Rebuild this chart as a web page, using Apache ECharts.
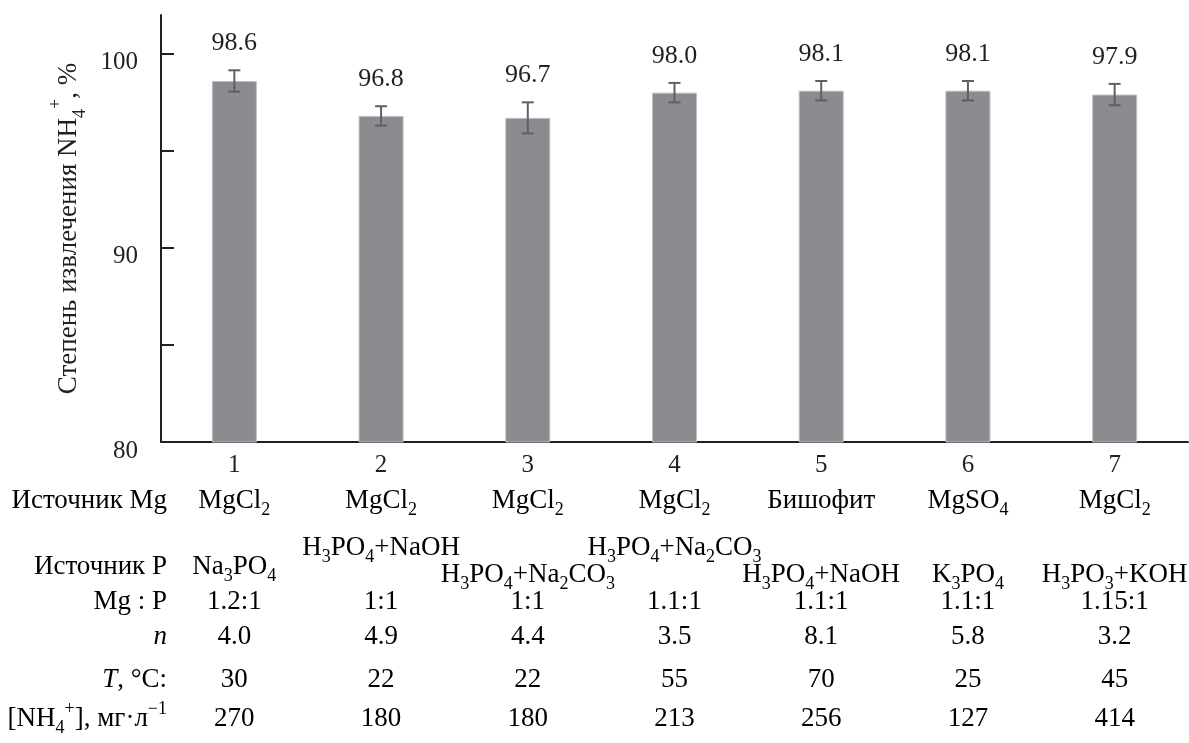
<!DOCTYPE html>
<html>
<head>
<meta charset="utf-8">
<script src="https://cdn.jsdelivr.net/npm/echarts@6/dist/echarts.min.js"></script>
<style>
  html, body { margin: 0; padding: 0; background: #ffffff; }
  #chart { width: 1189px; height: 743px; }
</style>
</head>
<body>
<div id="chart"></div>
<script>
// Experiment numbers and NH4+ recovery (%) with its spread
const experiments = ['1', '2', '3', '4', '5', '6', '7'];
const recovery = [98.6, 96.8, 96.7, 98.0, 98.1, 98.1, 97.9];
const recoveryError = [0.55, 0.5, 0.8, 0.5, 0.5, 0.5, 0.55];

// Conditions table under the bars ("_x" = subscript, "^x" = superscript, "*x*" = italic)
const mgSource = ['MgCl_2', 'MgCl_2', 'MgCl_2', 'MgCl_2', 'Бишофит', 'MgSO_4', 'MgCl_2'];
const pSource = ['Na_3PO_4', 'H_3PO_4+NaOH', 'H_3PO_4+Na_2CO_3', 'H_3PO_4+Na_2CO_3', 'H_3PO_4+NaOH', 'K_3PO_4', 'H_3PO_3+KOH'];
const mgToP = ['1.2:1', '1:1', '1:1', '1.1:1', '1.1:1', '1.1:1', '1.15:1'];
const nValues = ['4.0', '4.9', '4.4', '3.5', '8.1', '5.8', '3.2'];
const temperature = ['30', '22', '22', '55', '70', '25', '45'];
const ammonium = ['270', '180', '180', '213', '256', '127', '414'];
const rowHeaders = ['Источник Mg', 'Источник P', 'Mg : P', '*n*', '*T*, °C:', '[NH_4^+], мг·л^{−1}'];

// Y axis
const yAxisTitle = 'Степень извлечения NH_4^+, %';
const yTicks = [80, 85, 90, 95, 100];
const yTickLabels = [80, 90, 100];

// ---- layout & style ----
const FONT = '"Liberation Serif", "Times New Roman", serif';
const INK = '#231f20';
const BAR = '#8b8c90';
const WHISKER = '#5f6064';

// vertical offsets of the table rows below the category axis line (px)
const rowOffset = { mg: 59, pUp: 106, pMid: 125, pDown: 133, ratio: 160, n: 195, t: 238, nh4: 277 };
const headerRows = ['mg', 'pMid', 'ratio', 'n', 't', 'nh4'];
// long phosphorus-source names are staggered so they do not collide
const pSourceRow = ['pMid', 'pUp', 'pDown', 'pUp', 'pDown', 'pDown', 'pDown'];

function richFor(size, lineHeight) {
  const sub = Math.round(size * 0.66);
  const base = { fontFamily: FONT, color: INK };
  return {
    m: Object.assign({ fontSize: size, lineHeight: lineHeight }, base),
    i: Object.assign({ fontSize: size, lineHeight: lineHeight, fontStyle: 'italic' }, base),
    sb: Object.assign({ fontSize: sub, lineHeight: sub, verticalAlign: 'bottom' }, base),
    sp: Object.assign({ fontSize: sub, lineHeight: sub, verticalAlign: 'top' }, base)
  };
}

// turn the small markup into ECharts rich-text tokens
function chem(s) {
  let out = '';
  let buf = '';
  const flush = () => { if (buf) { out += '{m|' + buf + '}'; buf = ''; } };
  for (let k = 0; k < s.length; k++) {
    const c = s[k];
    if (c === '_' || c === '^') {
      flush();
      let t;
      if (s[k + 1] === '{') {
        const e = s.indexOf('}', k + 2);
        t = s.slice(k + 2, e);
        k = e;
      } else {
        t = s[k + 1];
        k++;
      }
      out += '{' + (c === '_' ? 'sb' : 'sp') + '|' + t + '}';
    } else if (c === '*') {
      flush();
      const e = s.indexOf('*', k + 1);
      out += '{i|' + s.slice(k + 1, e) + '}';
      k = e;
    } else {
      buf += c;
    }
  }
  flush();
  return out;
}

const tableRich = richFor(27, 37);
const titleRich = richFor(27, 42);

const GRID = { left: 161, right: 1, top: 15, bottom: 301 };
const axisY = 743 - GRID.bottom;

const chart = echarts.init(document.getElementById('chart'), null, { renderer: 'canvas' });

chart.setOption({
  animation: false,
  backgroundColor: '#ffffff',
  grid: GRID,
  xAxis: {
    type: 'category',
    data: experiments,
    axisLine: { show: true, lineStyle: { color: INK, width: 2 } },
    axisTick: { show: false },
    splitLine: { show: false },
    axisLabel: { fontFamily: FONT, fontSize: 25, color: INK, margin: 11 }
  },
  yAxis: {
    type: 'value',
    min: 80,
    max: 102,
    interval: 5,
    name: chem(yAxisTitle),
    nameLocation: 'middle',
    nameRotate: 90,
    nameGap: 63,
    nameTextStyle: { rich: titleRich },
    axisLine: { show: true, lineStyle: { color: INK, width: 2 } },
    axisTick: { show: true, inside: true, length: 13, lineStyle: { color: INK, width: 2 }, customValues: yTicks },
    axisLabel: {
      fontFamily: FONT, fontSize: 25, color: INK, margin: 23,
      verticalAlign: 'top', lineHeight: 18,
      customValues: yTickLabels
    },
    splitLine: { show: false }
  },
  graphic: rowHeaders.map((h, k) => ({
    type: 'text',
    x: 167,
    y: axisY + rowOffset[headerRows[k]],
    silent: true,
    style: { text: chem(h), rich: tableRich, align: 'right', verticalAlign: 'middle' }
  })),
  series: [
    {
      type: 'bar',
      data: recovery,
      barWidth: 45,
      itemStyle: { color: BAR, borderColor: '#bdbec1', borderWidth: 1 },
      silent: true,
      z: 2
    },
    {
      // whiskers and value labels
      type: 'custom',
      data: recovery.map((v, i) => [i, v, recoveryError[i]]),
      encode: { x: 0, y: 1 },
      clip: false,
      silent: true,
      z: 3,
      renderItem(params, api) {
        const i = api.value(0);
        const v = api.value(1);
        const e = api.value(2);
        const top = api.coord([i, v + e]);
        const bot = api.coord([i, v - e]);
        const cap = 6;
        const ls = { stroke: WHISKER, lineWidth: 2 };
        return {
          type: 'group',
          children: [
            { type: 'line', shape: { x1: top[0], y1: top[1], x2: bot[0], y2: bot[1] }, style: ls },
            { type: 'line', shape: { x1: top[0] - cap, y1: top[1], x2: top[0] + cap, y2: top[1] }, style: ls },
            { type: 'line', shape: { x1: bot[0] - cap, y1: bot[1], x2: bot[0] + cap, y2: bot[1] }, style: ls },
            {
              type: 'text', x: top[0], y: top[1] - 27,
              style: { text: v.toFixed(1), fontFamily: FONT, fontSize: 26, fill: INK, align: 'center', verticalAlign: 'middle' }
            }
          ]
        };
      }
    },
    {
      // conditions table, one column per experiment
      type: 'custom',
      data: experiments.map((c, i) => [i, 80]),
      encode: { x: 0, y: 1 },
      clip: false,
      silent: true,
      renderItem(params, api) {
        const i = params.dataIndex;
        const p = api.coord([i, 80]);
        const cells = [
          [mgSource[i], 'mg'],
          [pSource[i], pSourceRow[i]],
          [mgToP[i], 'ratio'],
          [nValues[i], 'n'],
          [temperature[i], 't'],
          [ammonium[i], 'nh4']
        ];
        return {
          type: 'group',
          children: cells.map(([txt, row]) => ({
            type: 'text',
            x: p[0],
            y: p[1] + rowOffset[row],
            style: { text: chem(txt), rich: tableRich, align: 'center', verticalAlign: 'middle' }
          }))
        };
      }
    }
  ]
});
</script>
</body>
</html>
